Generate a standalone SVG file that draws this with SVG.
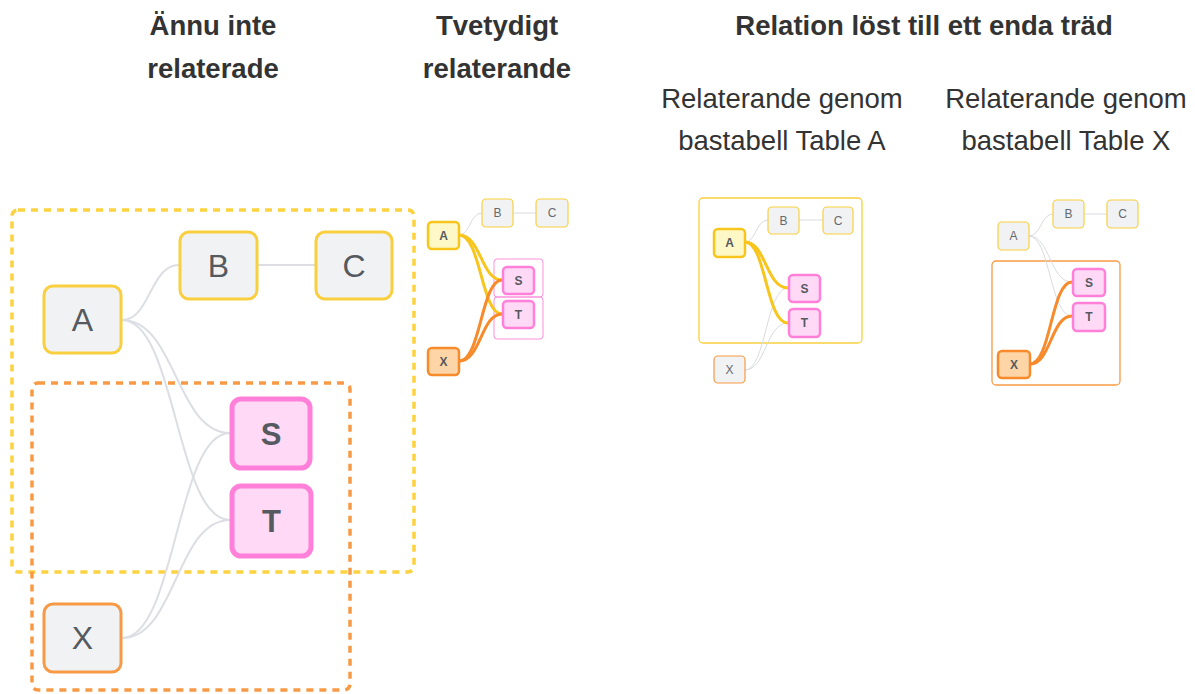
<svg xmlns="http://www.w3.org/2000/svg" width="1195" height="694" viewBox="0 0 1195 694">
<style>
  .h { font-family: "Liberation Sans", Arial, sans-serif; font-size: 27.5px; font-weight: bold; fill: #333333; text-anchor: middle; }
  .sub { font-family: "Liberation Sans", Arial, sans-serif; font-size: 27.5px; fill: #333333; text-anchor: middle; }
  .big { font-family: "Liberation Sans", Arial, sans-serif; font-size: 32px; fill: #555a60; text-anchor: middle; dominant-baseline: central; }
  .bigb { font-family: "Liberation Sans", Arial, sans-serif; font-size: 31px; font-weight: bold; fill: #555a60; text-anchor: middle; dominant-baseline: central; }
  .sm { font-family: "Liberation Sans", Arial, sans-serif; font-size: 12px; fill: #666a70; text-anchor: middle; dominant-baseline: central; }
  .smb { font-family: "Liberation Sans", Arial, sans-serif; font-size: 12px; font-weight: bold; fill: #555a60; text-anchor: middle; dominant-baseline: central; }
  .gy { fill: #f1f2f4; stroke: #f9cf3f; }
  .go { fill: #f1f2f4; stroke: #f89a45; }
  .py { fill: #fdf8c6; stroke: #f7c51c; }
  .po { fill: #fdd5a6; stroke: #f78b2c; }
  .pk { fill: #ffd9f5; stroke: #ff7fd9; }
  .eg { fill: none; stroke: #dcdee3; stroke-width: 2; }
  .eg2 { fill: none; stroke: #d9dbe0; stroke-width: 1; }
  .ey { fill: none; stroke: #f7c51c; stroke-width: 3; }
  .eo { fill: none; stroke: #f78b2c; stroke-width: 3; }
</style>

<!-- headings -->
<g id="headings">
  <text class="h" x="213" y="35">Ännu inte</text>
  <text class="h" x="213" y="78">relaterade</text>
  <text class="h" x="497" y="35">Tvetydigt</text>
  <text class="h" x="497" y="78">relaterande</text>
  <text class="h" x="924" y="35">Relation löst till ett enda träd</text>
  <text class="sub" x="782" y="108">Relaterande genom</text>
  <text class="sub" x="782" y="150">bastabell Table A</text>
  <text class="sub" x="1066" y="108">Relaterande genom</text>
  <text class="sub" x="1066" y="150">bastabell Table X</text>
</g>

<!-- panel 1 containers -->
<g id="p1-groups">
  <rect x="12" y="210" width="402" height="362" rx="6" fill="none" stroke="#fcd23f" stroke-width="3.5" stroke-dasharray="7 6"/>
  <rect x="32" y="383" width="318" height="307" rx="6" fill="none" stroke="#f89a45" stroke-width="3.5" stroke-dasharray="7 6"/>
</g>

<!-- panel 3/4 containers -->
<g id="p3-group">
  <rect x="699" y="198" width="163" height="145" rx="4" fill="none" stroke="#f9cf3f" stroke-width="1.3"/>
</g>
<g id="p4-group">
  <rect x="992" y="261" width="128" height="124" rx="4" fill="none" stroke="#f89a45" stroke-width="1.3"/>
</g>
<g id="p2-outlines">
  <rect x="494" y="259" width="49" height="38" rx="3" fill="none" stroke="#ff8fdc" stroke-width="1"/>
  <rect x="494" y="297" width="49" height="42" rx="3" fill="none" stroke="#ff8fdc" stroke-width="1"/>
</g>

<!-- connectors -->
<g id="connectors">
  <!-- panel 1 -->
  <path class="eg" d="M122,320 C150,320 150,265 179,265"/>
  <path class="eg" d="M257,265 L315,265"/>
  <path class="eg" d="M122,320 C176,320 176,433 230,433"/>
  <path class="eg" d="M122,320 C176,320 176,520 230,520"/>
  <path class="eg" d="M122,638 C176,638 176,433 230,433"/>
  <path class="eg" d="M122,638 C176,638 176,520 230,520"/>
  <!-- panel 2 -->
  <path class="eg2" d="M459,235 C470,235 470,213 482,213"/>
  <path class="eg2" d="M513,213 L536,213"/>
  <path class="ey" d="M459,235 C481,235 481,280 502,280"/>
  <path class="ey" d="M459,235 C481,235 481,314 502,314"/>
  <path class="eo" d="M459,361 C481,361 481,280 502,280"/>
  <path class="eo" d="M459,361 C481,361 481,314 502,314"/>
  <!-- panel 3 -->
  <path class="eg2" d="M745,242 C756,242 756,220 768,220"/>
  <path class="eg2" d="M799,220 L823,220"/>
  <path class="eg2" d="M745,370 C766,370 766,288 788,288"/>
  <path class="eg2" d="M745,370 C766,370 766,323 788,323"/>
  <path class="ey" d="M745,242 C766,242 766,288 788,288"/>
  <path class="ey" d="M745,242 C766,242 766,323 788,323"/>
  <!-- panel 4 -->
  <path class="eg2" d="M1029,236 C1041,236 1041,214 1053,214"/>
  <path class="eg2" d="M1084,214 L1107,214"/>
  <path class="eg2" d="M1029,236 C1050,236 1050,282 1072,282"/>
  <path class="eg2" d="M1029,236 C1050,236 1050,316 1072,316"/>
  <path class="eo" d="M1030,364 C1051,364 1051,282 1072,282"/>
  <path class="eo" d="M1030,364 C1051,364 1051,316 1072,316"/>
</g>

<!-- panel 1 nodes -->
<g id="p1-A"><rect class="gy" x="44" y="286" width="77" height="67" rx="9" stroke-width="3"/><text class="big" x="82.5" y="320">A</text></g>
<g id="p1-B"><rect class="gy" x="180" y="232" width="77" height="67" rx="9" stroke-width="3"/><text class="big" x="218.5" y="266">B</text></g>
<g id="p1-C"><rect class="gy" x="316" y="232" width="76" height="67" rx="9" stroke-width="3"/><text class="big" x="354" y="266">C</text></g>
<g id="p1-S"><rect class="pk" x="232" y="399" width="78" height="69" rx="9" stroke-width="5"/><text class="bigb" x="271" y="434">S</text></g>
<g id="p1-T"><rect class="pk" x="232" y="486" width="79" height="70" rx="9" stroke-width="5"/><text class="bigb" x="271.5" y="521">T</text></g>
<g id="p1-X"><rect class="go" x="44" y="604" width="77" height="68" rx="9" stroke-width="3"/><text class="big" x="82.5" y="638">X</text></g>

<!-- panel 2 nodes -->
<g id="p2-A"><rect class="py" x="428" y="222" width="31" height="27" rx="4" stroke-width="2.5"/><text class="smb" x="443.5" y="235.5">A</text></g>
<g id="p2-B"><rect class="gy" x="482" y="199" width="31" height="28" rx="4" stroke-width="1.2"/><text class="sm" x="497.5" y="213">B</text></g>
<g id="p2-C"><rect class="gy" x="536" y="199" width="32" height="28" rx="4" stroke-width="1.2"/><text class="sm" x="552" y="213">C</text></g>
<g id="p2-S"><rect class="pk" x="503" y="267" width="31" height="27" rx="4" stroke-width="2.5"/><text class="smb" x="518.5" y="280.5">S</text></g>
<g id="p2-T"><rect class="pk" x="503" y="301" width="31" height="27" rx="4" stroke-width="2.5"/><text class="smb" x="518.5" y="314.5">T</text></g>
<g id="p2-X"><rect class="po" x="428" y="348" width="31" height="27" rx="4" stroke-width="2.5"/><text class="smb" x="443.5" y="361.5">X</text></g>

<!-- panel 3 nodes -->
<g id="p3-A"><rect class="py" x="714" y="229" width="31" height="28" rx="4" stroke-width="2.5"/><text class="smb" x="729.5" y="243">A</text></g>
<g id="p3-B"><rect class="gy" x="768" y="207" width="31" height="27" rx="4" stroke-width="1.2"/><text class="sm" x="783.5" y="220.5">B</text></g>
<g id="p3-C"><rect class="gy" x="823" y="207" width="30" height="27" rx="4" stroke-width="1.2"/><text class="sm" x="838" y="220.5">C</text></g>
<g id="p3-S"><rect class="pk" x="789" y="275" width="31" height="27" rx="4" stroke-width="2.5"/><text class="smb" x="804.5" y="288.5">S</text></g>
<g id="p3-T"><rect class="pk" x="789" y="309" width="31" height="28" rx="4" stroke-width="2.5"/><text class="smb" x="804.5" y="323">T</text></g>
<g id="p3-X"><rect class="go" x="714" y="356" width="31" height="27" rx="4" stroke-width="1.2"/><text class="sm" x="729.5" y="369.5">X</text></g>

<!-- panel 4 nodes -->
<g id="p4-A"><rect class="gy" x="998" y="222" width="31" height="28" rx="4" stroke-width="1.2"/><text class="sm" x="1013.5" y="236">A</text></g>
<g id="p4-B"><rect class="gy" x="1053" y="200" width="31" height="28" rx="4" stroke-width="1.2"/><text class="sm" x="1068.5" y="214">B</text></g>
<g id="p4-C"><rect class="gy" x="1107" y="200" width="31" height="28" rx="4" stroke-width="1.2"/><text class="sm" x="1122.5" y="214">C</text></g>
<g id="p4-S"><rect class="pk" x="1073" y="269" width="32" height="27" rx="4" stroke-width="2.5"/><text class="smb" x="1089" y="282.5">S</text></g>
<g id="p4-T"><rect class="pk" x="1073" y="303" width="32" height="28" rx="4" stroke-width="2.5"/><text class="smb" x="1089" y="317">T</text></g>
<g id="p4-X"><rect class="po" x="998" y="351" width="32" height="27" rx="4" stroke-width="2.5"/><text class="smb" x="1014" y="364.5">X</text></g>
</svg>
